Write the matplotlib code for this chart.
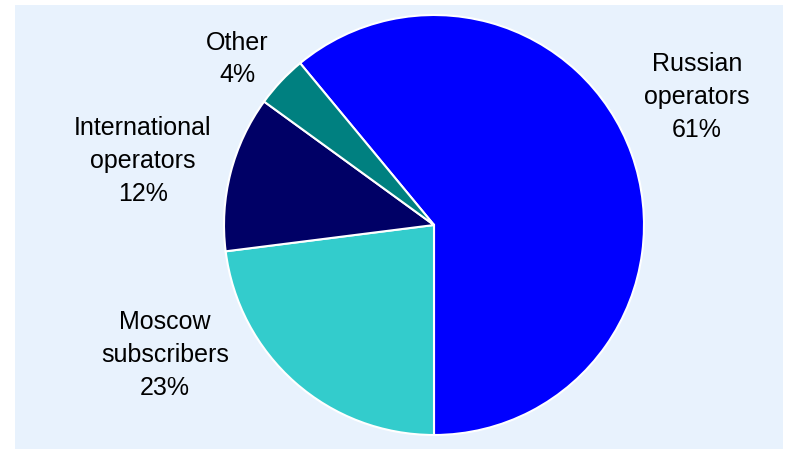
import matplotlib
matplotlib.use("Agg")
import matplotlib.pyplot as plt
from matplotlib.patches import Rectangle

categories = ["Russian\noperators", "Moscow\nsubscribers", "International\noperators", "Other"]
shares = [61, 23, 12, 4]
colors = ["#0000FF", "#33CCCC", "#000066", "#008080"]

W, H = 786, 449
fig = plt.figure(figsize=(W / 100, H / 100), dpi=100)
fig.patch.set_facecolor("white")
ax = fig.add_axes([0, 0, 1, 1])

ax.add_patch(Rectangle((15, 0), 768, H - 5, facecolor="#E8F2FD", edgecolor="none", zorder=0))

cx, cy, r = 434, H - 225, 210
start = 270 + 360 * shares[0] / 100.0
ax.pie(shares, colors=colors, startangle=start, counterclock=False,
       center=(cx, cy), radius=r, frame=True,
       wedgeprops=dict(edgecolor="white", linewidth=1.5))
ax.set_xlim(0, W)
ax.set_ylim(0, H)
ax.set_aspect("auto")
ax.axis("off")

label_pos = [(697, 97), (165, 355), (143, 161), (237, 59)]
for name, val, (x, y) in zip(categories, shares, label_pos):
    ax.text(x, H - y, f"{name}\n{val}%", ha="center", va="center",
            fontsize=18, family="Liberation Sans", linespacing=1.45, color="black")

fig.savefig("out.png", dpi=100, facecolor="white")
